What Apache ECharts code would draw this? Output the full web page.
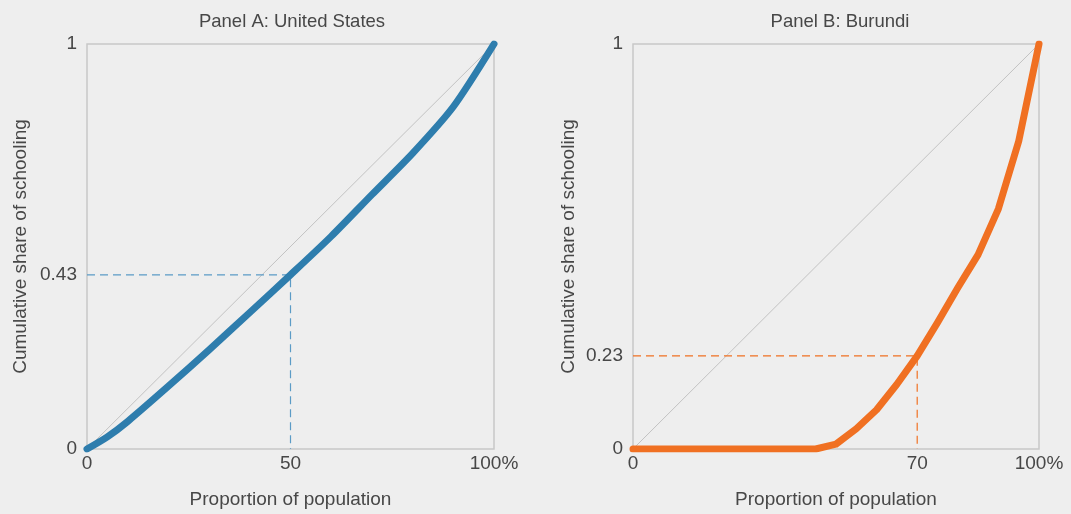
<!DOCTYPE html>
<html>
<head>
<meta charset="utf-8">
<style>
  html, body { margin: 0; padding: 0; background: #eeeeee; }
  #chart { width: 1071px; height: 514px; }
</style>
<script src="https://cdn.jsdelivr.net/npm/echarts@6/dist/echarts.min.js"></script>
</head>
<body>
<div id="chart"></div>
<script>
// Panel A: United States
const usX = [0, 5, 10, 20, 30, 40, 50, 60, 70, 80, 90, 100];
const usY = [0, 0.03, 0.068, 0.155, 0.245, 0.337, 0.43, 0.525, 0.628, 0.73, 0.845, 1.0];
const usMark = [50, 0.43];
const usXTicks = [0, 50, 100];
const usYTicks = [0, 0.43, 1];

// Panel B: Burundi
const buX = [0, 45, 50, 55, 60, 65, 70, 75, 80, 85, 90, 95, 100];
const buY = [0, 0, 0.012, 0.05, 0.097, 0.16, 0.23, 0.312, 0.398, 0.48, 0.593, 0.76, 1.0];
const buMark = [70, 0.23];
const buXTicks = [0, 70, 100];
const buYTicks = [0, 0.23, 1];

const diag = [[0, 0], [100, 1]];
const textColor = "#474747";
const font = "'Liberation Sans', Arial, sans-serif";

function zip(xs, ys) {
  return xs.map((x, i) => [x, ys[i]]);
}

function xAxisFor(idx, ticks) {
  return {
    gridIndex: idx,
    type: "value",
    min: 0,
    max: 100,
    name: "Proportion of population",
    nameLocation: "middle",
    nameGap: 41,
    nameTextStyle: { color: textColor, fontSize: 19, fontFamily: font },
    axisLine: { show: false },
    axisTick: { show: false },
    splitLine: { show: false },
    axisLabel: {
      customValues: ticks,
      color: textColor,
      fontSize: 19,
      fontFamily: font,
      margin: 5,
      formatter: v => (v === 100 ? "100%" : String(v)),
    },
  };
}

function yAxisFor(idx, ticks, gap) {
  return {
    gridIndex: idx,
    type: "value",
    min: 0,
    max: 1,
    name: "Cumulative share of schooling",
    nameLocation: "middle",
    nameGap: gap,
    nameTextStyle: { color: textColor, fontSize: 19, fontFamily: font },
    axisLine: { show: false },
    axisTick: { show: false },
    splitLine: { show: false },
    axisLabel: {
      customValues: ticks,
      color: textColor,
      fontSize: 19,
      fontFamily: font,
      margin: 10,
      formatter: v => String(v),
    },
  };
}

function panelSeries(idx, data, mark, color, dashColor, smooth) {
  return [
    {
      type: "line",
      xAxisIndex: idx,
      yAxisIndex: idx,
      data: diag,
      symbol: "none",
      silent: true,
      lineStyle: { color: "#c2c2c2", width: 1 },
      z: 1,
    },
    {
      type: "line",
      xAxisIndex: idx,
      yAxisIndex: idx,
      data: [[0, mark[1]], mark, [mark[0], 0]],
      symbol: "none",
      silent: true,
      lineStyle: { color: dashColor, width: 1.2, type: [8, 5] },
      z: 2,
    },
    {
      type: "line",
      xAxisIndex: idx,
      yAxisIndex: idx,
      data: data,
      symbol: "none",
      smooth: smooth,
      lineStyle: { color: color, width: 7, cap: "round", join: "round" },
      z: 3,
    },
  ];
}

const chart = echarts.init(document.getElementById("chart"));
chart.setOption({
  backgroundColor: "#eeeeee",
  animation: false,
  title: [
    {
      text: "Panel A: United States",
      left: 287, top: 7, textAlign: "center",
      textStyle: { color: textColor, fontSize: 18.5, fontWeight: "normal", fontFamily: font },
    },
    {
      text: "Panel B: Burundi",
      left: 835, top: 7, textAlign: "center",
      textStyle: { color: textColor, fontSize: 18.5, fontWeight: "normal", fontFamily: font },
    },
  ],
  grid: [
    { left: 87, right: 577, top: 44, bottom: 64, show: true, borderColor: "#c8c8c8", borderWidth: 1.5, backgroundColor: "transparent" },
    { left: 633, right: 32, top: 44, bottom: 64, show: true, borderColor: "#c8c8c8", borderWidth: 1.5, backgroundColor: "transparent" },
  ],
  xAxis: [xAxisFor(0, usXTicks), xAxisFor(1, buXTicks)],
  yAxis: [yAxisFor(0, usYTicks, 57), yAxisFor(1, buYTicks, 55)],
  series: [
    ...panelSeries(0, zip(usX, usY), usMark, "#2e7dad", "#5b9bc6", 0.25),
    ...panelSeries(1, zip(buX, buY), buMark, "#f07022", "#f07022", false),
  ],
});
</script>
</body>
</html>
